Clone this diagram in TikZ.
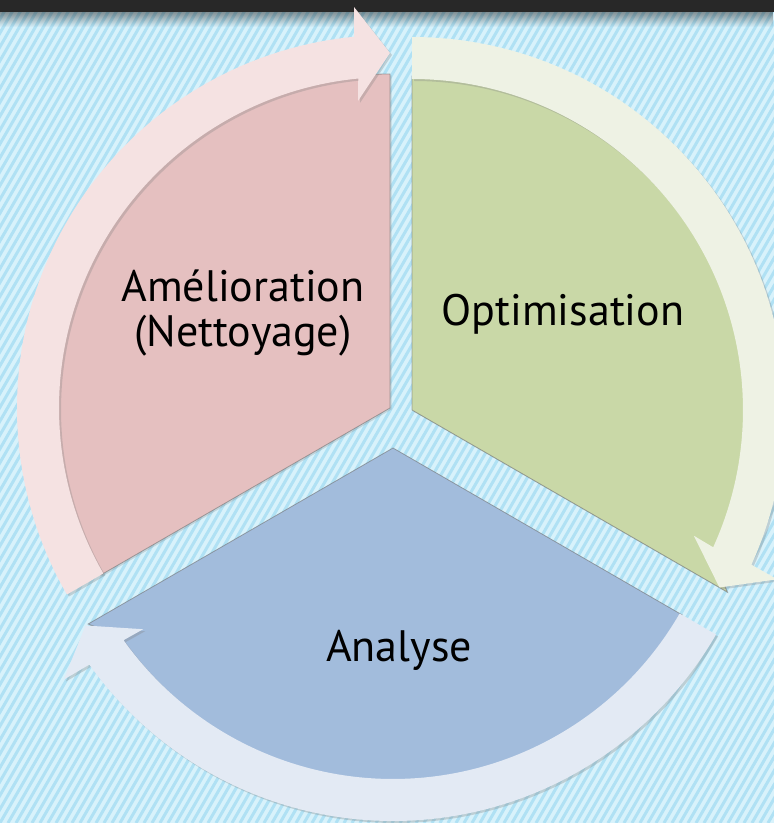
\documentclass[tikz,border=0pt]{standalone}
\usepackage{fontspec}
\setmainfont{PT Sans}
\usetikzlibrary{shadows,fadings,calc}
\definecolor{bgbase}{RGB}{216,242,251}
\definecolor{bgstripe}{RGB}{176,225,244}
\definecolor{topbar}{RGB}{40,40,40}
\definecolor{redsec}{RGB}{229,192,192}
\definecolor{greensec}{RGB}{201,216,167}
\definecolor{bluesec}{RGB}{162,188,220}
\definecolor{redarr}{RGB}{245,226,226}
\definecolor{greenarr}{RGB}{238,242,228}
\definecolor{bluearr}{RGB}{227,234,244}
\tikzfading[name=fadedown, top color=transparent!0, bottom color=transparent!100]
\tikzset{
  sector/.style={draw=black!55, draw opacity=0.6, line width=0.8pt,
    drop shadow={opacity=0.25, shadow xshift=1.5pt, shadow yshift=-1.5pt}},
  arrowshadow/.style={drop shadow={opacity=0.3, shadow xshift=2pt, shadow yshift=-2pt}},
  lbl/.style={font=\fontsize{44}{45}\selectfont, text=black, inner sep=0pt}
}
\newcommand\cyclearrow[3]{%
  \begin{scope}[shift={(#1)}]
    \fill[#3, arrowshadow] ({#2+210}:373) arc[start angle={#2+210}, end angle={#2+95.5}, radius=373]
      -- ({#2+95.13}:402.6) -- ({#2+90}:355) -- ({#2+95.95}:308.7)
      -- ({#2+95.5}:331) arc[start angle={#2+95.5}, end angle={#2+210}, radius=331] -- cycle;
  \end{scope}}
\begin{document}
\begin{tikzpicture}[x=1pt,y=1pt]
\useasboundingbox (0,0) rectangle (774,823);
% background
\begin{scope}
  \clip (0,0) rectangle (774,823);
  \fill[bgbase] (0,0) rectangle (774,823);
  \foreach \i in {-480,-472,...,780} {
    \draw[bgstripe, line width=3pt] (\i,0) -- ++(475,823);
  }
  \fill[black, opacity=0.4, path fading=fadedown] (0,796) rectangle (774,811);
  \fill[topbar] (0,811) rectangle (774,823);
\end{scope}
% centres
\coordinate (R) at (390,415);
\coordinate (G) at (412,413);
\coordinate (B) at (393,375);
% sectors
\fill[redsec, sector] (R) -- ++(90:334) arc[start angle=90, end angle=210, radius=334] -- cycle;
\fill[greensec, sector] (G) -- ($(G)+(-30:364)$) -- ($(G)+(-26:334)$) arc[start angle=-26, end angle=90, radius=334] -- cycle;
\fill[bluesec, sector] (B) -- ($(B)+(210:352)$) -- ($(B)+(214:334)$) arc[start angle=214, end angle=330, radius=334] -- cycle;
% arrows
\cyclearrow{R}{0}{redarr}
\cyclearrow{G}{-120}{greenarr}
\cyclearrow{B}{120}{bluearr}
% labels
\node[lbl, align=center] (ame) at (243,510) {Amélioration\\(Nettoyage)};
\node[lbl] (opt) at (563,509) {Optimisation};
\node[lbl] (ana) at (399,173) {Analyse};
\end{tikzpicture}
\end{document}
